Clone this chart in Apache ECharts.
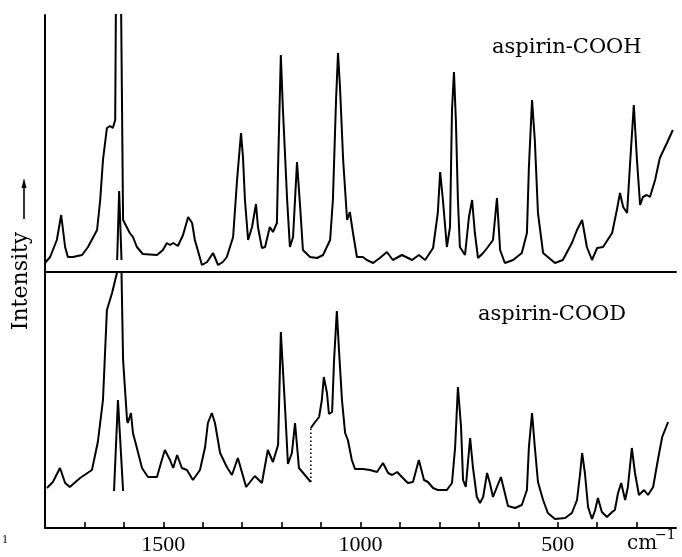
<!DOCTYPE html>
<html>
<head>
<meta charset="utf-8">
<script src="https://cdn.jsdelivr.net/npm/echarts@6/dist/echarts.min.js"></script>
<style>html,body{margin:0;padding:0;background:#fff;}#c{width:682px;height:557px;}</style>
</head>
<body>
<div id="c"></div>
<script>
// Wavenumber axis (cm-1)
const xMin = 200, xMax = 1800, xStep = 100;
const xLabels = [1500, 1000, 500];

// aspirin-COOH spectrum (wavenumber, intensity a.u.)
const topX = [1800,1787,1770,1759,1749,1742,1729,1706,1691,1668,1660,1653,1643,1635,1628,1622,1615,1602,1597,1585,1577,1567,1552,1516,1501,1491,1483,1475,1463,1450,1437,1427,1420,1402,1389,1374,1361,1349,1339,1323,1313,1303,1298,1293,1285,1275,1265,1260,1250,1242,1230,1222,1212,1209,1202,1197,1186,1179,1171,1161,1153,1146,1128,1110,1095,1077,1070,1062,1057,1052,1044,1034,1027,1019,1009,994,984,968,951,933,918,895,869,852,836,816,804,798,791,781,773,768,763,758,753,748,735,725,717,710,702,689,677,664,654,646,634,613,591,578,573,565,558,550,537,525,507,487,464,451,438,426,413,400,385,362,350,342,334,324,317,307,299,291,284,274,266,253,241,223,208];
const topY = [9,15,32,57,25,15,15,17,25,42,72,112,144,146,144,152,600,52,50,39,35,25,18,17,22,29,27,29,26,37,55,49,32,7,10,19,7,10,15,35,92,139,115,72,32,45,68,45,24,25,45,40,49,105,217,165,72,25,35,110,65,22,15,14,17,32,72,172,219,185,112,52,60,39,15,15,12,9,14,20,12,17,12,17,12,24,59,100,72,25,45,162,200,150,72,25,17,55,72,39,14,19,25,32,74,22,9,12,19,39,105,172,132,59,19,15,9,12,29,42,52,25,12,24,25,39,62,79,65,59,105,167,112,67,75,77,75,92,114,129,142];
// reduced-scale copy of the strong 1610 band (COOH)
const topInsetX = [1617,1612,1606];
const topInsetY = [12,81,12];

// aspirin-COOD spectrum, part before the break
const botX1 = [1795,1780,1762,1749,1737,1711,1681,1666,1653,1643,1630,1617,1612,1606,1605,1602,1592,1590,1582,1577,1567,1554,1539,1516,1506,1496,1483,1475,1465,1453,1440,1425,1407,1394,1387,1377,1369,1356,1339,1326,1311,1290,1268,1250,1235,1222,1209,1202,1191,1184,1174,1166,1156,1141,1126];
const botY1 = [40,46,60,45,41,50,58,86,128,218,235,256,300,256,233,168,108,105,115,95,80,60,51,51,65,78,68,60,73,60,58,48,58,81,105,115,105,75,61,53,70,41,52,45,78,66,83,196,118,64,75,105,60,53,46];
// dotted connection at the break
const botGapX = [1126,1126];
const botGapY = [46,100];
// aspirin-COOD spectrum, part after the break
const botX2 = [1126,1115,1105,1098,1093,1085,1080,1072,1067,1060,1055,1047,1039,1032,1022,1014,994,976,958,943,930,920,907,895,880,867,852,839,829,816,804,781,768,760,753,745,740,733,727,722,715,705,697,689,679,672,664,654,644,634,626,608,591,578,573,565,558,550,537,525,507,481,464,451,443,438,431,423,413,405,398,388,375,362,355,347,339,329,322,312,304,294,281,271,258,246,235,220];
const botY2 = [100,106,111,128,151,135,114,116,168,217,181,128,95,88,68,59,59,58,56,65,55,53,56,51,45,46,68,48,46,40,38,38,45,81,141,101,48,41,68,90,61,31,25,31,55,45,31,41,51,35,22,20,23,38,81,115,81,46,28,15,9,10,15,28,55,75,55,21,9,18,30,16,11,16,18,35,45,28,41,80,55,33,38,33,41,68,91,106];
// reduced-scale copy of the strong band (COOD)
const botInsetX = [1625,1615,1602];
const botInsetY = [37,128,37];

const zip = (a, b) => a.map((v, i) => [v, b[i]]);

const chart = echarts.init(document.getElementById('c'), null, {renderer: 'canvas'});
const lineStyle = {color: '#000', width: 2};
const mk = (name, xi, yi, x, y, extra) => Object.assign({
  name, type: 'line', xAxisIndex: xi, yAxisIndex: yi, data: zip(x, y),
  showSymbol: false, symbol: 'none', smooth: false, clip: true,
  lineStyle: Object.assign({}, lineStyle), silent: true
}, extra || {});

const numFont = {fontFamily: 'Liberation Serif', fontSize: 22, color: '#000'};

chart.setOption({
  animation: false,
  backgroundColor: '#fff',
  grid: [
    {left: 45, right: 6, top: 15, height: 257},
    {left: 45, right: 6, top: 272, height: 256}
  ],
  xAxis: [
    {gridIndex: 0, type: 'value', min: xMin, max: xMax, interval: xStep, inverse: true,
     axisLine: {show: true, onZero: false, lineStyle: {color: '#000', width: 2}},
     axisTick: {show: false}, axisLabel: {show: false}, splitLine: {show: false}},
    {gridIndex: 1, type: 'value', min: xMin, max: xMax, interval: xStep, inverse: true,
     axisLine: {show: true, onZero: false, lineStyle: {color: '#000', width: 2}},
     axisTick: {show: true, inside: true, length: 6, lineStyle: {color: '#000', width: 1.6}},
     axisLabel: Object.assign({margin: 6, showMinLabel: false, showMaxLabel: false,
       formatter: v => xLabels.indexOf(v) >= 0 ? String(v) : ''}, numFont),
     splitLine: {show: false}}
  ],
  yAxis: [
    {gridIndex: 0, type: 'value', min: 0, max: 257,
     axisLine: {show: true, onZero: false, lineStyle: {color: '#000', width: 2}},
     axisTick: {show: false}, axisLabel: {show: false}, splitLine: {show: false}},
    {gridIndex: 1, type: 'value', min: 0, max: 256,
     axisLine: {show: true, onZero: false, lineStyle: {color: '#000', width: 2}},
     axisTick: {show: false}, axisLabel: {show: false}, splitLine: {show: false}}
  ],
  series: [
    mk('aspirin-COOH', 0, 0, topX, topY),
    mk('aspirin-COOH inset', 0, 0, topInsetX, topInsetY),
    mk('aspirin-COOD', 1, 1, botX1, botY1),
    mk('gap', 1, 1, botGapX, botGapY, {lineStyle: {color: '#000', width: 1.6, type: [1.5, 2.5]}}),
    mk('aspirin-COOD b', 1, 1, botX2, botY2),
    mk('aspirin-COOD inset', 1, 1, botInsetX, botInsetY)
  ],
  graphic: [
    {type: 'text', left: 492, top: 37, style: {text: 'aspirin-COOH', fontFamily: 'DejaVu Serif', fontSize: 21, fill: '#000'}},
    {type: 'text', left: 478, top: 304, style: {text: 'aspirin-COOD', fontFamily: 'DejaVu Serif', fontSize: 21, fill: '#000'}},
    {type: 'text', x: 21, y: 281, rotation: Math.PI / 2,
     style: {text: 'Intensity', fontFamily: 'DejaVu Serif', fontSize: 22, fill: '#000', align: 'center', verticalAlign: 'middle'}},
    {type: 'line', shape: {x1: 24, y1: 219, x2: 24, y2: 184}, style: {stroke: '#000', lineWidth: 1.6}},
    {type: 'polygon', shape: {points: [[24, 178], [21.5, 188], [26.5, 188]]}, style: {fill: '#000'}},
    {type: 'text', x: 627, y: 554, style: {text: 'cm', fontFamily: 'DejaVu Serif', fontSize: 20, fill: '#000', align: 'left', verticalAlign: 'bottom'}},
    {type: 'text', x: 655, y: 528, style: {text: '\u22121', fontFamily: 'DejaVu Serif', fontSize: 14, fill: '#000', align: 'left', verticalAlign: 'top'}},
    {type: 'text', x: 2, y: 534, style: {text: '1', fontFamily: 'Liberation Serif', fontSize: 12, fill: '#000', align: 'left', verticalAlign: 'top'}}
  ]
});
</script>
</body>
</html>
